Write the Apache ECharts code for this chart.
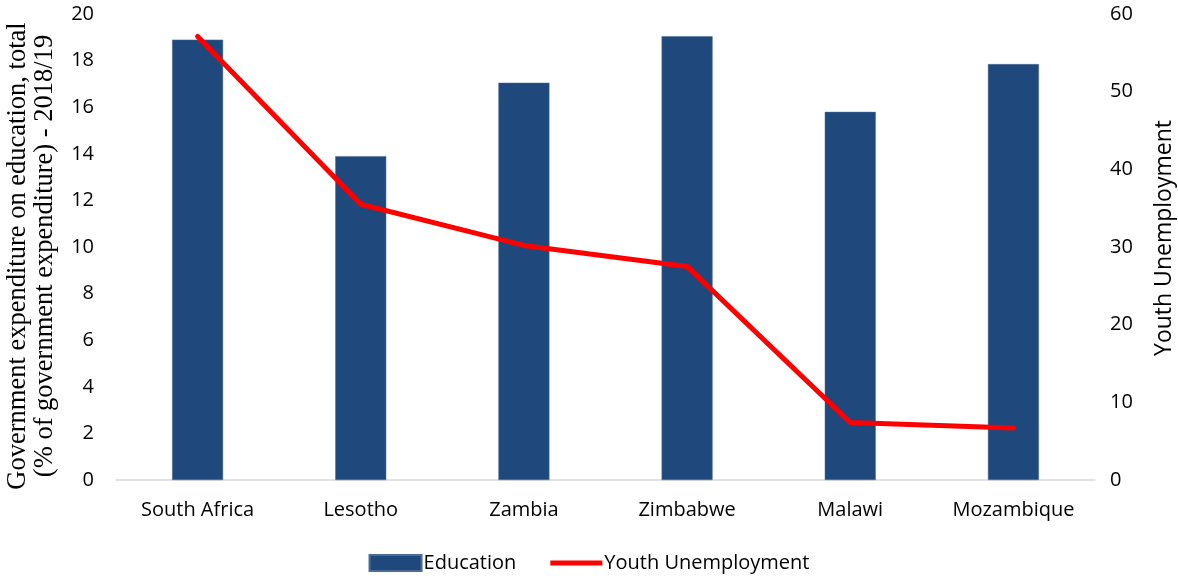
<!DOCTYPE html>
<html><head><meta charset="utf-8">
<script src="https://cdn.jsdelivr.net/npm/echarts@6/dist/echarts.min.js"></script>
<style>html,body{margin:0;padding:0;background:#fff}#c{width:1178px;height:578px}</style>
</head><body><div id="c"></div>
<script>
const categories = ['South Africa','Lesotho','Zambia','Zimbabwe','Malawi','Mozambique'];
const education = [18.9, 13.9, 17.05, 19.05, 15.8, 17.85];
const youthUnemployment = [57.1, 35.5, 30.2, 27.5, 7.4, 6.7];
const leftTicks = {min:0, max:20, interval:2};
const rightTicks = {min:0, max:60, interval:10};

const chart = echarts.init(document.getElementById('c'));
const tickFont = {fontFamily:'Open Sans', fontSize:20, color:'#000'};
chart.setOption({
  animation:false,
  grid:{left:116, right:83, top:14, bottom:98, containLabel:false, outerBoundsMode:'none'},
  legend:{
    bottom:0, left:'center', itemGap:34, itemWidth:52, itemHeight:16,
    textStyle:{fontFamily:'Open Sans', fontSize:20, color:'#000', padding:[0,0,0,-3]},
    data:[
      {name:'Education', icon:'rect'},
      {name:'Youth Unemployment', icon:'path://M0,0M0,16M0,5.5H52V10.5H0Z', itemStyle:{color:'#ff0000', borderWidth:0}}
    ]
  },
  xAxis:{
    type:'category', data:categories,
    axisLine:{lineStyle:{color:'#d9d9d9', width:1.5}},
    axisTick:{show:false},
    axisLabel:Object.assign({margin:20}, tickFont)
  },
  yAxis:[{
    type:'value', min:leftTicks.min, max:leftTicks.max, interval:leftTicks.interval,
    splitLine:{show:false}, axisLine:{show:false}, axisTick:{show:false},
    axisLabel:Object.assign({margin:22}, tickFont),
    name:'Government expenditure on education, total\n(% of government expenditure) - 2018/19',
    nameLocation:'middle', nameRotate:90, nameGap:57, nameMoveOverlap:false,
    nameTextStyle:{fontFamily:'Liberation Serif', fontSize:26.5, color:'#000', lineHeight:27, padding:[0,18,0,0]}
  },{
    type:'value', min:rightTicks.min, max:rightTicks.max, interval:rightTicks.interval,
    splitLine:{show:false}, axisLine:{show:false}, axisTick:{show:false},
    axisLabel:Object.assign({margin:15}, tickFont),
    name:'Youth Unemployment', nameLocation:'middle', nameRotate:90, nameGap:58, nameMoveOverlap:false,
    nameTextStyle:{fontFamily:'Open Sans', fontSize:23, color:'#000', padding:[0,0,0,18]}
  }],
  series:[{
    name:'Education', type:'bar', data:education, barWidth:51,
    itemStyle:{color:'#1f497d', borderColor:'#4a6c96', borderWidth:0.5}
  },{
    name:'Youth Unemployment', type:'line', yAxisIndex:1, data:youthUnemployment,
    symbol:'none', showSymbol:false, lineStyle:{color:'#ff0000', width:5, cap:'round', join:'round'},
    itemStyle:{color:'#ff0000'}
  }]
});
</script></body></html>
